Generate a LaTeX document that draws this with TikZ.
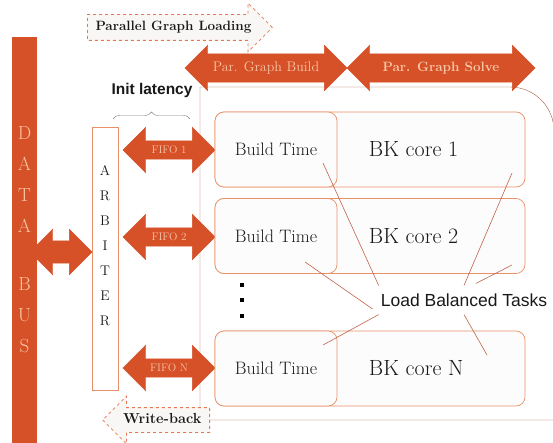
\documentclass[tikz,border=0pt]{standalone}
\usepackage{fontspec}
\newfontfamily\sansfont{Liberation Sans}
\usetikzlibrary{shapes, arrows, positioning, decorations.pathreplacing}

\definecolor{busred}{RGB}{214,80,40}
\definecolor{peach}{RGB}{247,198,165}
\definecolor{edgeorange}{RGB}{232,145,105}
\definecolor{frameline}{RGB}{165,95,70}
\definecolor{boxfill}{RGB}{253,252,252}
\definecolor{ghostfill}{RGB}{249,247,245}
\definecolor{dashorange}{RGB}{228,120,84}
\definecolor{calloutred}{RGB}{192,100,75}
\definecolor{inkgrey}{RGB}{25,25,25}

\begin{document}
\begin{tikzpicture}[x=1pt, y=-1pt, node distance=1cm,
    bigarrow/.style={double arrow, fill=busred, draw=busred, text=peach, inner xsep=0pt},
    ghostarrow/.style={single arrow, single arrow head extend=11.5pt, draw=dashorange, dashed, thick, fill=ghostfill, inner xsep=0pt, text=inkgrey},
    corebox/.style={rectangle, rounded corners=9pt, draw=edgeorange, line width=0.7pt, fill=boxfill, minimum width=310pt, minimum height=75pt},
    buildbox/.style={corebox, minimum width=122pt, text=inkgrey, font=\fontsize{18}{20}\selectfont},
    coretext/.style={text=inkgrey, font=\fontsize{22}{26}\selectfont},
    fifo/.style={bigarrow, minimum height=92pt, text height=7.5pt, text depth=1pt, inner ysep=4.75pt, double arrow head extend=13.5pt, font=\fontsize{11}{12}\selectfont},
    phase/.style={bigarrow, text height=10pt, text depth=3pt, inner ysep=7.5pt, double arrow head extend=8.5pt},
    dotmark/.style={rectangle, fill=black, inner sep=0pt, minimum size=3.5pt},
    callout/.style={draw=calloutred, line width=0.6pt}]
        \fill[white] (0,0) rectangle (553,443);
        \useasboundingbox (0,0) rectangle (553,443);

        % Bus and arbiter
        \node (bus) [rectangle, fill=busred, minimum width=25pt, minimum height=406pt, inner sep=0pt, text=peach, align=center, font=\fontsize{19}{31}\selectfont] at (24.5,240) {D\\A\\T\\A\\[27pt]B\\U\\S};
        \node (arbiter) [rectangle, draw=edgeorange, fill=white, minimum width=26pt, minimum height=263pt, inner sep=0pt, text=inkgrey, align=center, font=\fontsize{14}{25}\selectfont] at (105,258.5) {A\\R\\B\\I\\T\\E\\R\\\mbox{}};
        \node (link) [bigarrow, minimum height=62pt, text height=0pt, text depth=0pt, inner ysep=11pt, double arrow head extend=11.5pt] at (61,252) {};

        % Outer frame
        \draw [frameline] (200,420) -- (200,87) -- (510,87) .. controls (534.3,87) and (554,106.7) .. (554,131) -- (554,420) -- cycle;

        % Phases
        \node (loading) [ghostarrow, anchor=tail, minimum height=185pt, text height=10pt, text depth=3pt, inner ysep=6pt, font=\bfseries\fontsize{13.5}{15}\selectfont] at (87,27.5) {Parallel Graph Loading};
        \node (gbuild) [phase, minimum height=162pt, font=\fontsize{14}{16}\selectfont] at (266,68) {Par. Graph Build};
        \node (gsolve) [phase, minimum height=188pt, font=\bfseries\fontsize{13.5}{15}\selectfont] at (441,68) {Par. Graph Solve};
        \node (writeback) [ghostarrow, shape border rotate=180, anchor=tail, minimum height=107pt, text height=9.5pt, text depth=3pt, inner ysep=5.75pt, font=\bfseries\fontsize{14.5}{16}\selectfont] at (210,420) {Write-back};

        % Init latency
        \node (latency) [font=\sansfont\bfseries\fontsize{15.5}{17}\selectfont, text=inkgrey] at (152,90) {Init latency};
        \coordinate (brace-l) at (113,119);
        \coordinate (brace-r) at (190,119);
        \draw [decorate, decoration={brace, amplitude=7pt}, draw=gray] (brace-l) -- (brace-r);

        % FIFOs
        \node (fifo1) [fifo] at (169,150) {FIFO 1};
        \node (fifo2) [fifo] at (169,237) {FIFO 2};
        \node (fifoN) [fifo] at (169,368) {FIFO N};

        % BK cores
        \node (core1) [corebox] at (370,149.5) {};
        \node (build1) [buildbox, anchor=west] at (core1.west) {Build Time};
        \node (bk1) [coretext, right=28pt of build1] {BK core 1};
        \node (core2) [corebox] at (370,236) {};
        \node (build2) [buildbox, anchor=west] at (core2.west) {Build Time};
        \node (bk2) [coretext, right=28pt of build2] {BK core 2};
        \node (coreN) [corebox] at (370,368.5) {};
        \node (buildN) [buildbox, anchor=west] at (coreN.west) {Build Time};
        \node (bkN) [coretext, right=28pt of buildN] {BK core N};

        \node (dot1) [dotmark] at (242,285) {};
        \node (dot2) [dotmark] at (242,300) {};
        \node (dot3) [dotmark] at (242,316) {};

        % Load balancing callouts
        \node (tasks) [inner sep=8pt, text=inkgrey, font=\sansfont\fontsize{17.5}{19}\selectfont] at (464,300) {Load Balanced Tasks};
        \coordinate (t1) at (323,163);
        \coordinate (t2) at (512,173);
        \coordinate (t3) at (305,262);
        \coordinate (t4) at (512,265);
        \coordinate (t5) at (323,345);
        \coordinate (t6) at (487,355);
        \draw [callout] ([xshift=6pt]tasks.north west) -- (t1);
        \draw [callout] (tasks.north) -- (t2);
        \draw [callout] ([yshift=-9pt]tasks.west) -- (t3);
        \draw [callout] ([xshift=12pt, yshift=2pt]tasks.north) -- (t4);
        \draw [callout] ([xshift=6pt]tasks.south west) -- (t5);
        \draw [callout] (tasks.south) -- (t6);
    \end{tikzpicture}
\end{document}
